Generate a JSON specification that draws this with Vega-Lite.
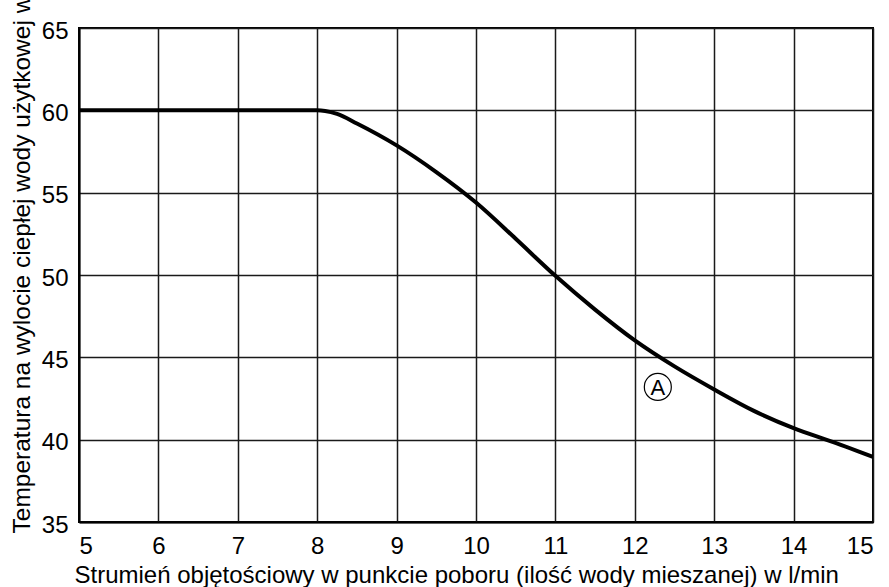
{
  "$schema": "https://vega.github.io/schema/vega-lite/v6.json",
  "autosize": "none",
  "width": 794,
  "height": 494,
  "padding": {"left": 79, "top": 28, "right": 16, "bottom": 65},
  "background": "white",
  "config": {
    "font": "Liberation Sans",
    "view": {"stroke": "#000", "strokeWidth": 2},
    "axis": {
      "labelFont": "Liberation Sans",
      "titleFont": "Liberation Sans",
      "labelFontSize": 24,
      "titleFontSize": 24,
      "labelColor": "#000",
      "titleColor": "#000",
      "titleFontWeight": "normal",
      "domainColor": "#000",
      "domainWidth": 2,
      "gridColor": "#1a1a1a",
      "gridWidth": 1.5,
      "gridOpacity": 1,
      "ticks": false
    }
  },
  "datasets": {
    "curve": [
      {"x": 5, "t": 60},
      {"x": 6, "t": 60},
      {"x": 7, "t": 60},
      {"x": 8, "t": 60},
      {"x": 8.1, "t": 59.96},
      {"x": 8.25, "t": 59.78},
      {"x": 8.5, "t": 59.2},
      {"x": 9, "t": 57.87},
      {"x": 9.5, "t": 56.25},
      {"x": 10, "t": 54.4},
      {"x": 10.5, "t": 52.2},
      {"x": 11, "t": 49.95},
      {"x": 11.5, "t": 47.9},
      {"x": 12, "t": 46.03},
      {"x": 12.5, "t": 44.45},
      {"x": 13, "t": 43.05},
      {"x": 13.5, "t": 41.75},
      {"x": 14, "t": 40.7},
      {"x": 14.5, "t": 39.85},
      {"x": 15, "t": 38.95}
    ],
    "marker": [{"x": 12.29, "t": 43.2, "label": "A"}]
  },
  "layer": [
    {
      "data": {"name": "curve"},
      "mark": {"type": "line", "color": "#000", "strokeWidth": 4, "interpolate": "monotone", "clip": true},
      "encoding": {
        "x": {
          "field": "x", "type": "quantitative",
          "scale": {"domain": [5, 15], "nice": false, "zero": false},
          "axis": {
            "values": [5, 6, 7, 8, 9, 10, 11, 12, 13, 14, 15],
            "format": "d",
            "labelPadding": 12,
            "title": "Strumień objętościowy w punkcie poboru (ilość wody mieszanej) w l/min",
            "titleAnchor": "start",
            "titleAlign": "left",
            "titleX": -5,
            "titleY": 60,
            "titleBaseline": "alphabetic"
          }
        },
        "y": {
          "field": "t", "type": "quantitative",
          "scale": {"domain": [35, 65], "nice": false, "zero": false},
          "axis": {
            "values": [35, 40, 45, 50, 55, 60, 65],
            "format": "d",
            "labelPadding": 11,
            "labelOffset": 3,
            "title": "Temperatura na wylocie ciepłej wody użytkowej w °C",
            "titleAnchor": "start",
            "titleAlign": "left",
            "titleAngle": 270,
            "titleBaseline": "middle",
            "titleFontSize": 24.5,
            "titleX": -57,
            "titleY": 505
          }
        }
      }
    },
    {
      "data": {"name": "marker"},
      "mark": {"type": "point", "shape": "circle", "size": 729, "stroke": "#000", "strokeWidth": 1.2, "filled": false, "opacity": 1},
      "encoding": {
        "x": {"field": "x", "type": "quantitative"},
        "y": {"field": "t", "type": "quantitative"}
      }
    },
    {
      "data": {"name": "marker"},
      "mark": {"type": "text", "fontSize": 22, "font": "Liberation Sans", "color": "#000", "baseline": "middle", "align": "center", "dy": 1},
      "encoding": {
        "x": {"field": "x", "type": "quantitative"},
        "y": {"field": "t", "type": "quantitative"},
        "text": {"field": "label"}
      }
    }
  ]
}
